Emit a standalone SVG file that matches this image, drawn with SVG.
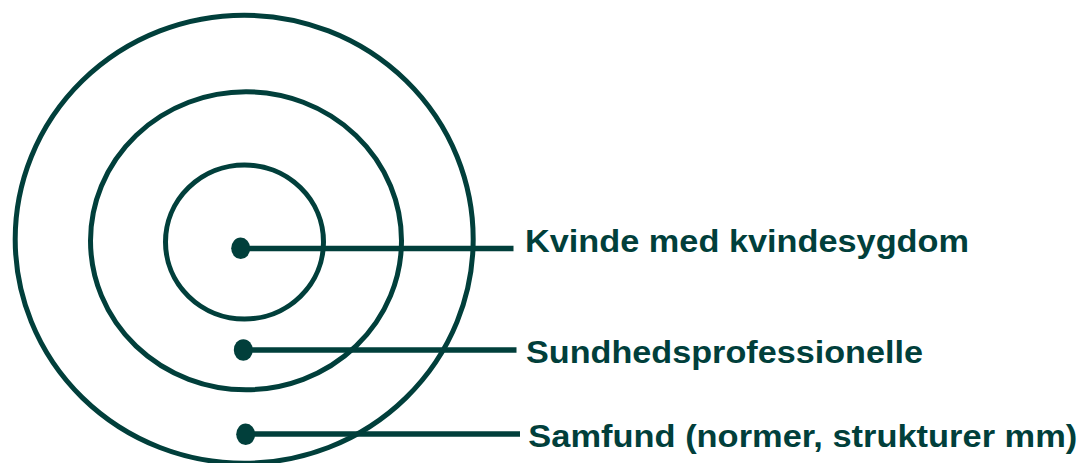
<svg xmlns="http://www.w3.org/2000/svg" width="1083" height="463" viewBox="0 0 1083 463">
<style>
.ring{fill:none;stroke:#013F3B;stroke-width:5}
.lead{stroke:#013F3B;stroke-width:5.5;fill:none}
.dot{fill:#013F3B}
.lbl{font-family:"Liberation Sans",Arial,sans-serif;font-weight:bold;font-size:31.5px;fill:#013F3B}
</style>
<rect width="1083" height="463" fill="#ffffff"/>
<g id="ring-samfund"><ellipse class="ring" cx="244.2" cy="239.2" rx="229" ry="224"/></g>
<g id="ring-sundhed"><ellipse class="ring" cx="246" cy="240.8" rx="155.5" ry="149"/></g>
<g id="ring-kvinde"><ellipse class="ring" cx="244.5" cy="242" rx="79" ry="77"/></g>
<g id="connectors">
<line class="lead" x1="241" y1="248.5" x2="513.5" y2="248.5"/>
<line class="lead" x1="243.5" y1="350" x2="516.5" y2="350"/>
<line class="lead" x1="246" y1="434" x2="520" y2="434"/>
<ellipse class="dot" cx="240.7" cy="248.3" rx="9.5" ry="10.8"/>
<ellipse class="dot" cx="243.3" cy="350" rx="9.5" ry="10.8"/>
<ellipse class="dot" cx="245.7" cy="434.3" rx="9.5" ry="10.8"/>
</g>
<g id="label-kvinde"><text class="lbl" x="525" y="252.3" textLength="444" lengthAdjust="spacingAndGlyphs">Kvinde med kvindesygdom</text></g>
<g id="label-sundhed"><text class="lbl" x="526" y="363.3" textLength="397" lengthAdjust="spacingAndGlyphs">Sundhedsprofessionelle</text></g>
<g id="label-samfund"><text class="lbl" x="528.3" y="447.3" textLength="549" lengthAdjust="spacingAndGlyphs">Samfund (normer, strukturer mm)</text></g>
</svg>
